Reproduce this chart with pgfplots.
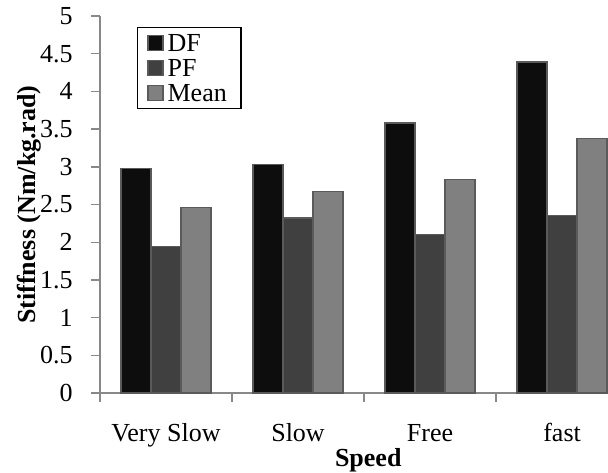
\documentclass[border=0pt]{standalone}
\usepackage{fontspec}
\setmainfont{Liberation Serif}
\usepackage{pgfplots}
\pgfplotsset{compat=1.18}
\definecolor{cDF}{HTML}{0D0D0D}
\definecolor{cPF}{HTML}{404040}
\definecolor{cMean}{HTML}{808080}
\definecolor{cEdge}{HTML}{5A5A5A}
\definecolor{cAxis}{HTML}{888888}
\newcommand{\fs}{\fontsize{13}{15.6}\selectfont}
\pgfplotsset{sqleg/.style={legend image code/.code={\draw[#1, draw=cEdge, line width=0.6pt] (0pt,-3.75pt) rectangle (7.5pt,3.75pt);}}}
\begin{document}
\begin{tikzpicture}
\useasboundingbox (-50pt,-39.5pt) rectangle (254pt,196.5pt);
\begin{axis}[
  at={(0,0)}, anchor=south west,
  scale only axis, width=254pt, height=188.5pt,
  xmin=-0.5, xmax=3.348, ymin=0, ymax=5,
  ybar=0pt, bar width=15pt,
  axis lines=left,
  axis line style={-, draw=cAxis, line width=0.7pt},
  tick style={draw=cAxis, line width=0.7pt},
  tick align=outside,
  major tick length=4.5pt,
  ytick={0,0.5,1,1.5,2,2.5,3,3.5,4,4.5,5},
  xtick={-0.5,0.5,1.5,2.5},
  xticklabels={},
  extra x ticks={0,1,2,3},
  extra x tick labels={Very Slow,Slow,Free,fast},
  extra x tick style={major tick length=0pt},
  ticklabel style={font=\fs},
  /pgf/number format/assume math mode=true,
  xticklabel style={text height=9pt, text depth=3pt, yshift=-11.5pt},
  yticklabel style={anchor=east, inner xsep=9pt},
  xlabel={\textbf{Speed}},
  xlabel style={font=\fs, at={(axis description cs:0.528,0)}, anchor=base, yshift=-36.8pt},
  ylabel={\textbf{Stiffness (Nm/kg.rad)}},
  ylabel style={font=\fs, at={(axis description cs:-0.127,0.5)}, anchor=base, rotate=0},
  legend style={font=\fs, draw=black, line width=0.75pt,
    at={(axis description cs:0.0722,0.971)}, anchor=north west,
    inner xsep=5pt, inner ysep=1.5pt,
    nodes={text height=9.5pt, text depth=1pt, inner ysep=1pt, inner xsep=2pt},
    cells={anchor=west}},
  legend cell align=left,
]
\addplot[fill=cDF, draw=cEdge, line width=0.6pt, sqleg] coordinates {(0,2.98) (1,3.03) (2,3.58) (3,4.39)};
\addplot[fill=cPF, draw=cEdge, line width=0.6pt, sqleg] coordinates {(0,1.94) (1,2.32) (2,2.10) (3,2.35)};
\addplot[fill=cMean, draw=cEdge, line width=0.6pt, sqleg] coordinates {(0,2.46) (1,2.67) (2,2.83) (3,3.38)};
\legend{DF,PF,Mean}
\end{axis}
\end{tikzpicture}
\end{document}
